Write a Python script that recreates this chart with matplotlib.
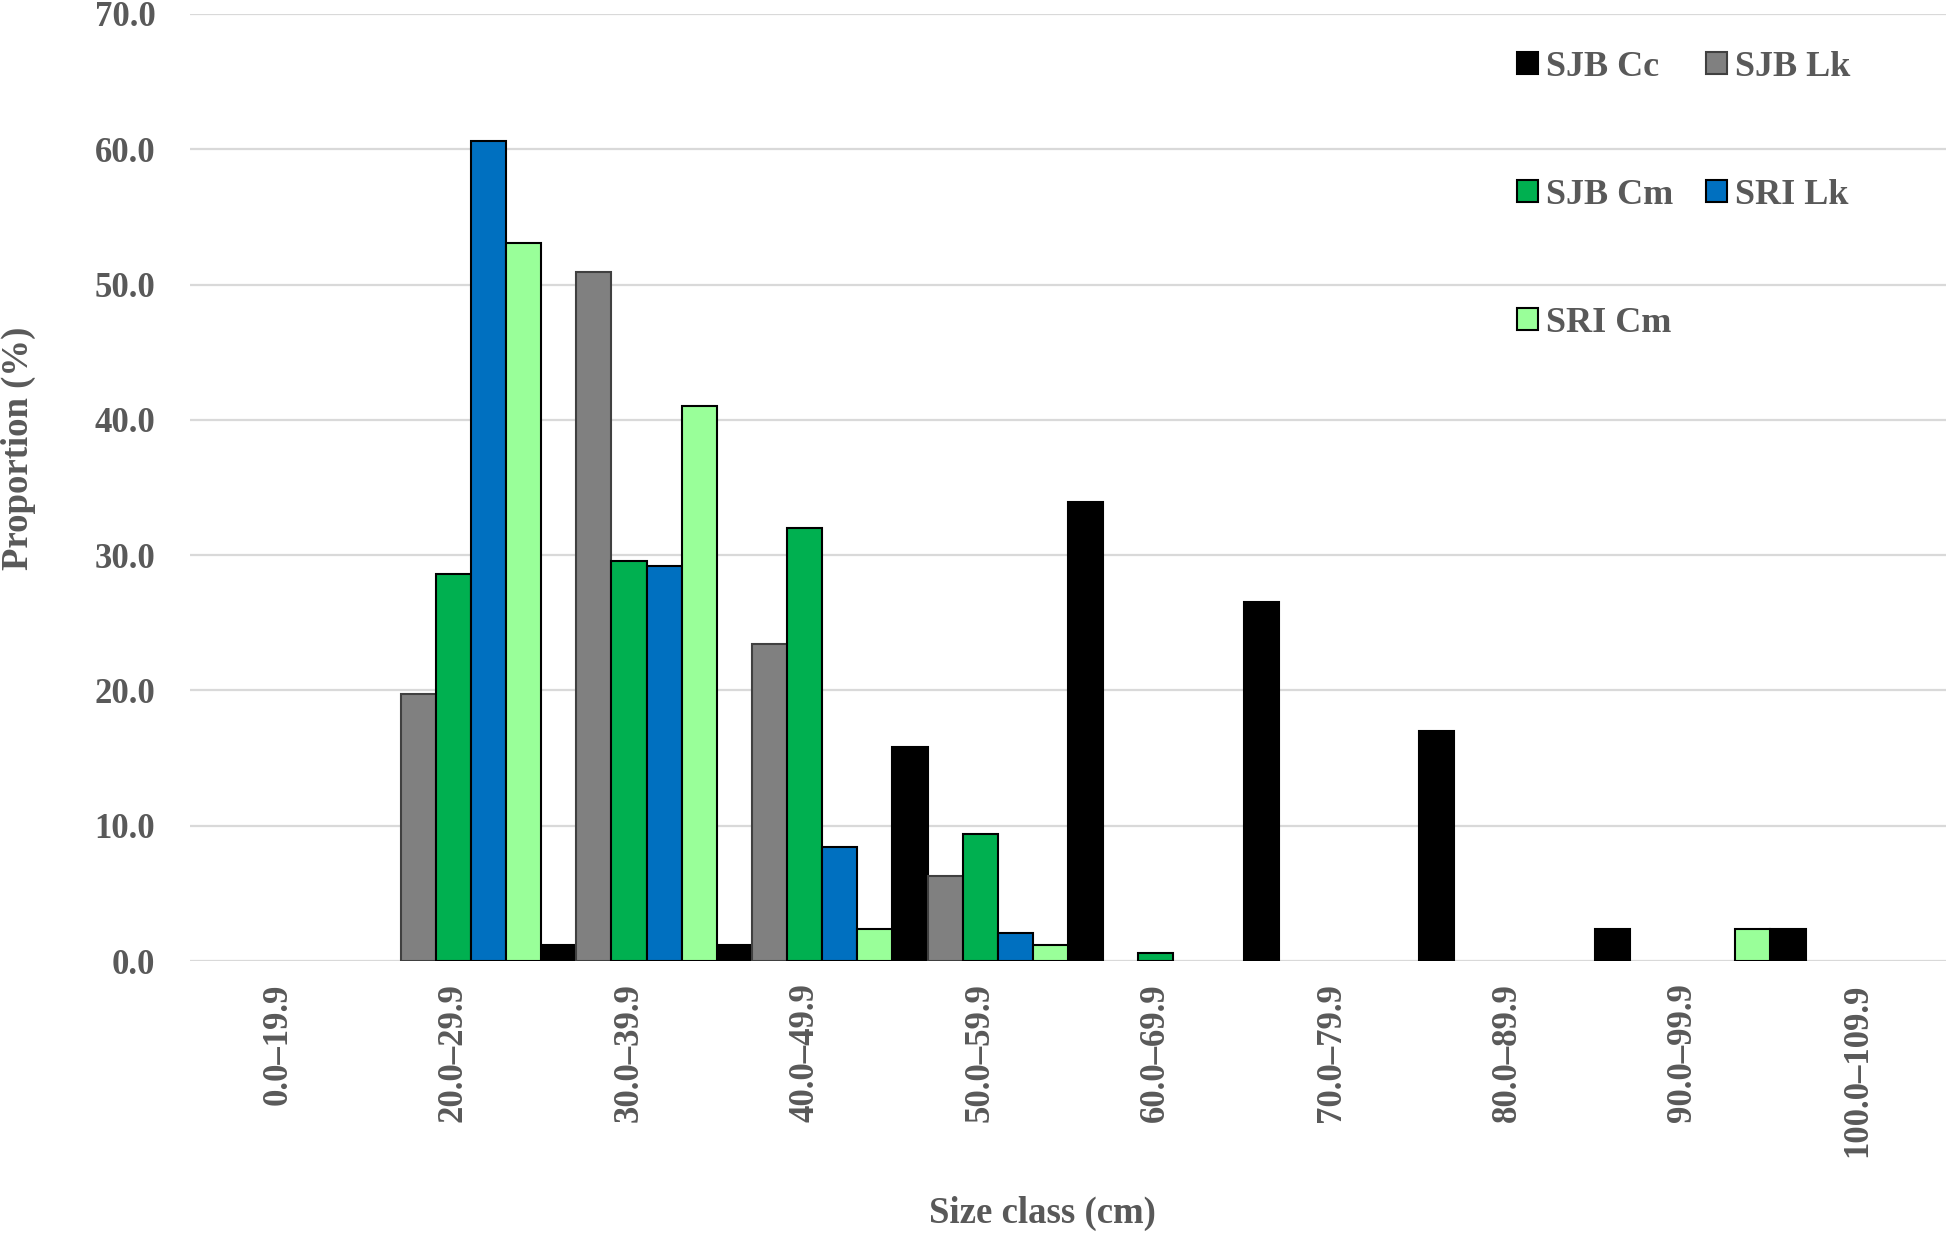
import matplotlib
matplotlib.use("Agg")
import matplotlib.pyplot as plt
import numpy as np

categories = ["0.0–19.9", "20.0–29.9", "30.0–39.9", "40.0–49.9", "50.0–59.9",
              "60.0–69.9", "70.0–79.9", "80.0–89.9", "90.0–99.9", "100.0–109.9"]
series_names = ["SJB Cc", "SJB Lk", "SJB Cm", "SRI Lk", "SRI Cm"]
sjb_cc = [0, 0, 1.2, 1.2, 15.8, 33.9, 26.5, 17.0, 2.4, 2.4]
sjb_lk = [0, 19.7, 50.9, 23.4, 6.3, 0, 0, 0, 0, 0]
sjb_cm = [0, 28.6, 29.6, 32.0, 9.4, 0.6, 0, 0, 0, 0]
sri_lk = [0, 60.6, 29.2, 8.4, 2.1, 0, 0, 0, 0, 0]
sri_cm = [0, 53.1, 41.0, 2.4, 1.2, 0, 0, 0, 2.4, 0]
y_ticks = [0, 10, 20, 30, 40, 50, 60, 70]

series = [sjb_cc, sjb_lk, sjb_cm, sri_lk, sri_cm]
colors = ["#000000", "#808080", "#00B050", "#0070C0", "#99FF99"]
edges = ["#000000", "#404040", "#000000", "#000000", "#000000"]

plt.rcParams['font.family'] = ['Liberation Serif', 'DejaVu Serif']
plt.rcParams['font.weight'] = 'bold'
txt_color = "#595959"
fs = 25

fig = plt.figure(figsize=(19.5, 12.38), dpi=100)
ax = fig.add_axes([190/1950, 1-961/1238, (1946-190)/1950, (961-14)/1238])

x = np.arange(len(categories))
w = 0.2
handles = []
for k, (vals, name) in enumerate(zip(series, series_names)):
    lws = [1.5 if v > 0 else 0 for v in vals]
    b = ax.bar(x + (k - 2) * w, vals, width=w, color=colors[k], edgecolor=edges[k],
               linewidth=lws, label=name, zorder=3)
    handles.append(b)

ax.set_xlim(-0.5, len(categories) - 0.5)
ax.set_ylim(0, 70)
ax.set_yticks(y_ticks)
ax.set_yticklabels([f"{v:.1f}" for v in y_ticks], fontsize=fs, fontweight='bold', color=txt_color)
ax.set_xticks(x)
ax.set_xticklabels(categories, rotation=90, fontsize=fs, fontweight='bold', color=txt_color,
                   va='top', ha='center')
ax.tick_params(axis='both', length=0)
ax.tick_params(axis='y', pad=25)
ax.tick_params(axis='x', pad=16)
for s in ax.spines.values():
    s.set_visible(False)
ax.yaxis.grid(True, color="#D9D9D9", linewidth=1.6, zorder=0)
ax.set_axisbelow(True)

fig.text(18/1950, 1-448/1238, "Proportion (%)", rotation=90, fontsize=26.5, fontweight='bold',
         color=txt_color, ha='center', va='center')
fig.text(1042/1950, 1-1213/1238, "Size class (cm)", fontsize=26.5, fontweight='bold',
         color=txt_color, ha='center', va='center')

order = [0, 2, 4, 1, 3]
leg = ax.legend([handles[i] for i in order], [series_names[i] for i in order], ncol=2,
                loc='upper left', bbox_to_anchor=(1517/1950, 1-51/1238),
                bbox_transform=fig.transFigure, frameon=False, fontsize=26,
                handlelength=0.58, handleheight=0.58, handletextpad=0.22,
                columnspacing=0.92, labelspacing=2.63, borderpad=0, borderaxespad=0)
for t in leg.get_texts():
    t.set_color(txt_color)
    t.set_fontweight('bold')
for h, i in zip(leg.legend_handles, order):
    h.set_linewidth(1.5)
    h.set_edgecolor(edges[i])

fig.savefig("out.png", dpi=100)
